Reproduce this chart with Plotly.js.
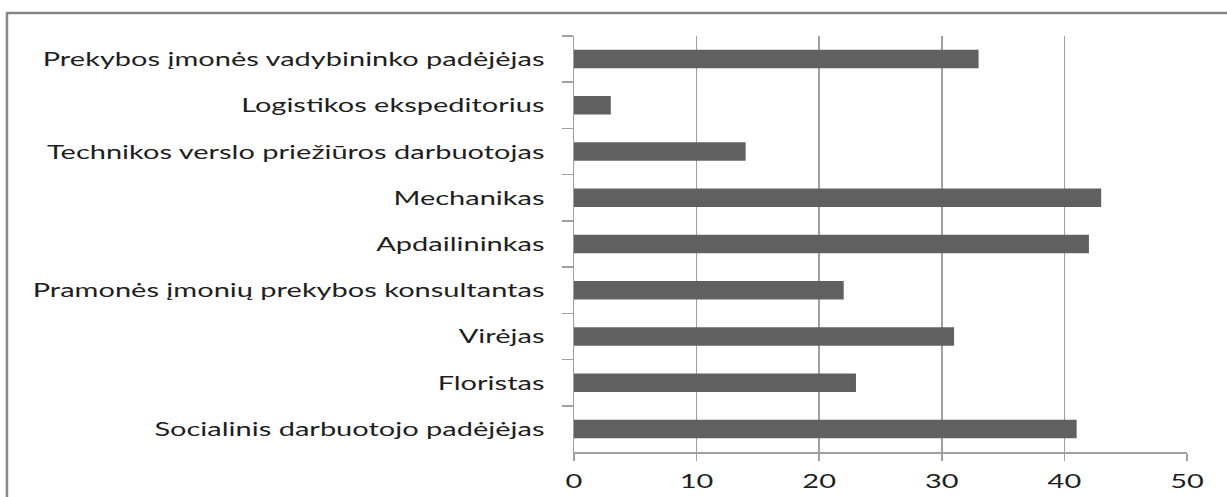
<!DOCTYPE html>
<html>
<head>
<meta charset="utf-8">
<script src="https://cdn.plot.ly/plotly-3.0.1.min.js"></script>
<style>
html,body{margin:0;padding:0;background:#fff;}
#chart{width:1227px;height:497px;}
</style>
</head>
<body>
<div id="chart"></div>
<script>
const categories = [
  "Prekybos įmonės vadybininko padėjėjas",
  "Logistikos ekspeditorius",
  "Technikos verslo priežiūros darbuotojas",
  "Mechanikas",
  "Apdailininkas",
  "Pramonės įmonių prekybos konsultantas",
  "Virėjas",
  "Floristas",
  "Socialinis darbuotojo padėjėjas"
];
const values = [33, 3, 14, 43, 42, 22, 31, 23, 41];
const xTicks = [0, 10, 20, 30, 40, 50];

const font = {family: "Lato", size: 20, color: "#1e1e1e"};

Plotly.newPlot("chart", [{
  type: "bar",
  orientation: "h",
  x: values,
  y: categories,
  marker: {color: "#606060"},
  hoverinfo: "x+y"
}], {
  width: 1227, height: 497,
  margin: {l: 574, r: 40, t: 36, b: 45},
  paper_bgcolor: "#fff",
  plot_bgcolor: "#fff",
  bargap: 0.6,
  showlegend: false,
  font: font,
  xaxis: {
    range: [0, 50],
    tickvals: xTicks,
    ticktext: xTicks.map(String),
    showgrid: true,
    gridcolor: "#a0a0a0",
    gridwidth: 1.5,
    zeroline: false,
    showline: true,
    linecolor: "#a0a0a0",
    linewidth: 1.5,
    ticks: "outside",
    ticklen: 7,
    tickcolor: "#a0a0a0",
    tickwidth: 1.5,
    ticklabelstandoff: 4,
    tickfont: font,
    fixedrange: true
  },
  yaxis: {
    type: "category",
    autorange: "reversed",
    showgrid: false,
    zeroline: false,
    showline: true,
    linecolor: "#a0a0a0",
    linewidth: 1.5,
    ticks: "outside",
    tickson: "boundaries",
    ticklen: 11,
    tickcolor: "#a0a0a0",
    tickwidth: 1.5,
    ticklabelstandoff: 24,
    tickfont: font,
    fixedrange: true
  },
  shapes: [{
    type: "rect",
    xref: "paper", yref: "paper",
    x0: -0.925, x1: 1.2,
    y0: -0.3, y1: 1.055,
    line: {color: "#868686", width: 2.5},
    fillcolor: "rgba(0,0,0,0)",
    layer: "below"
  }]
}, {displayModeBar: false, staticPlot: true}).then(function () {
  // The reference's lettering is horizontally stretched; widen tick labels around their anchor.
  const yTexts = Array.from(document.querySelectorAll("#chart .ytick text"));
  let longest = 0;
  yTexts.forEach(t => { longest = Math.max(longest, t.getComputedTextLength()); });
  const targetWidth = 512;
  const s = longest > 0 ? targetWidth / longest : 1;
  const stretch = function (t) {
    const x = parseFloat(t.getAttribute("x")) || 0;
    const tr = t.getAttribute("transform") || "";
    t.setAttribute("transform", tr + " translate(" + x + ",0) scale(" + s + ",1) translate(" + (-x) + ",0)");
  };
  yTexts.forEach(stretch);
  document.querySelectorAll("#chart .xtick text").forEach(stretch);
});
</script>
</body>
</html>
